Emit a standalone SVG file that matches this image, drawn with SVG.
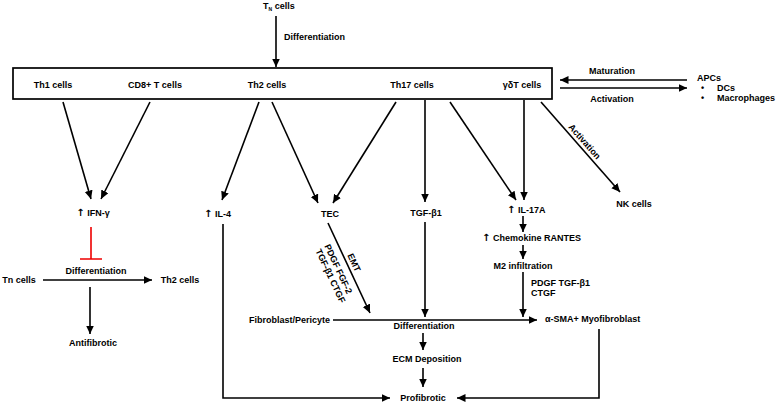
<svg xmlns="http://www.w3.org/2000/svg" width="777" height="403" viewBox="0 0 777 403">
<style>
text{font-family:"Liberation Sans",Arial,sans-serif;font-size:9px;font-weight:bold;fill:#000}
.m{text-anchor:middle}
.e{text-anchor:end}
.up{font-family:"DejaVu Sans",sans-serif;font-size:10px}
.ln{stroke:#000;stroke-width:1.6;fill:none}
.ar{marker-end:url(#ah)}
</style>
<defs>
<marker id="ah" markerUnits="userSpaceOnUse" markerWidth="10" markerHeight="9" refX="8.5" refY="4" orient="auto">
<path d="M0,0 L8.5,4 L0,8 z" fill="#000"/>
</marker>
</defs>
<rect width="777" height="403" fill="#fff"/>

<g id="tn-top"><text x="263" y="9">T<tspan font-size="5" dy="2">N</tspan><tspan dy="-2"> cells</tspan></text></g>
<g id="box">
<rect x="13" y="68" width="539" height="31" fill="none" stroke="#000" stroke-width="1.7"/>
<text class="m" x="53" y="88">Th1 cells</text>
<text class="m" x="155" y="88">CD8+ T cells</text>
<text class="m" x="267" y="88">Th2 cells</text>
<text class="m" x="412" y="88">Th17 cells</text>
<text class="m" x="522" y="88">γδT cells</text>
</g>
<g id="apcs">
<text x="697" y="81">APCs</text>
<text x="701" y="91">•</text><text x="717" y="91">DCs</text>
<text x="701" y="101">•</text><text x="717" y="101">Macrophages</text>
</g>
<g id="ifn"><text class="m" x="93" y="216"><tspan class="up">↑</tspan> IFN-γ</text></g>
<g id="il4"><text x="204" y="217"><tspan class="up">↑</tspan> IL-4</text></g>
<g id="tec"><text class="m" x="330" y="217">TEC</text></g>
<g id="tgf"><text class="m" x="426" y="216">TGF-β1</text></g>
<g id="il17"><text x="507" y="213"><tspan class="up">↑</tspan> IL-17A</text></g>
<g id="nk"><text class="m" x="634" y="207">NK cells</text></g>
<g id="chemokine"><text x="482" y="241"><tspan class="up">↑</tspan> Chemokine RANTES</text></g>
<g id="m2"><text class="m" x="523" y="269">M2 infiltration</text></g>
<g id="fibro"><text class="e" x="330" y="323">Fibroblast/Pericyte</text></g>
<g id="myofib"><text x="545" y="322">α-SMA+ Myofibroblast</text></g>
<g id="diff-c"><text class="m" x="424" y="329">Differentiation</text></g>
<g id="ecm"><text class="m" x="427" y="362">ECM Deposition</text></g>
<g id="profib"><text class="m" x="423" y="401">Profibrotic</text></g>
<g id="diff-l"><text class="m" x="96" y="274">Differentiation</text></g>
<g id="tn-l"><text class="m" x="19" y="283">Tn cells</text></g>
<g id="th2-l"><text class="m" x="180" y="283">Th2 cells</text></g>
<g id="antifib"><text class="m" x="93" y="346">Antifibrotic</text></g>

<g id="connectors">
<line class="ln ar" x1="276" y1="16" x2="276" y2="67"/>
<text x="284" y="40">Differentiation</text>
<line class="ln ar" x1="63" y1="102" x2="91" y2="199"/>
<line class="ln ar" x1="150" y1="102" x2="101" y2="199"/>
<line class="ln ar" x1="259" y1="102" x2="222" y2="200"/>
<line class="ln ar" x1="272" y1="102" x2="318" y2="203"/>
<line class="ln ar" x1="396" y1="102" x2="333" y2="203"/>
<line class="ln ar" x1="425" y1="100" x2="425" y2="202"/>
<line class="ln ar" x1="450" y1="102" x2="516" y2="200"/>
<line class="ln ar" x1="524" y1="100" x2="524" y2="200"/>
<line class="ln ar" x1="541" y1="102" x2="620" y2="192"/>
<g transform="translate(580,147) rotate(48.4)"><text class="m" x="-1" y="-4">Activation</text></g>
<line class="ln ar" x1="687" y1="80" x2="560" y2="80"/>
<line class="ln ar" x1="560" y1="88" x2="687" y2="88"/>
<text class="m" x="612" y="74">Maturation</text>
<text class="m" x="612" y="102">Activation</text>
<path d="M91,227 V259 M80,259 H102" stroke="#e00" stroke-width="1.6" fill="none"/>
<line class="ln ar" x1="43" y1="280" x2="152" y2="280"/>
<line class="ln ar" x1="90" y1="287" x2="90" y2="334"/>
<path class="ln ar" d="M223,224 V398 H390"/>
<line class="ln ar" x1="328" y1="223" x2="370" y2="313"/>
<g transform="translate(346,262) rotate(65)">
<text class="m" x="4" y="-4">EMT</text>
<text class="m" x="3" y="13">PDGF FGF-2</text>
<text class="m" x="6" y="23">TGF-β1  CTGF</text>
</g>
<line class="ln ar" x1="425" y1="222" x2="425" y2="317"/>
<line class="ln ar" x1="333" y1="320" x2="537" y2="320"/>
<line class="ln ar" x1="523" y1="216" x2="523" y2="232"/>
<line class="ln ar" x1="523" y1="245" x2="523" y2="259"/>
<line class="ln ar" x1="523" y1="272" x2="523" y2="317"/>
<text x="531" y="286">PDGF TGF-β1</text>
<text x="531" y="296">CTGF</text>
<line class="ln ar" x1="423" y1="333" x2="423" y2="350"/>
<line class="ln ar" x1="423" y1="368" x2="423" y2="387"/>
<path class="ln ar" d="M599,329 V398 H457"/>
</g>
</svg>
